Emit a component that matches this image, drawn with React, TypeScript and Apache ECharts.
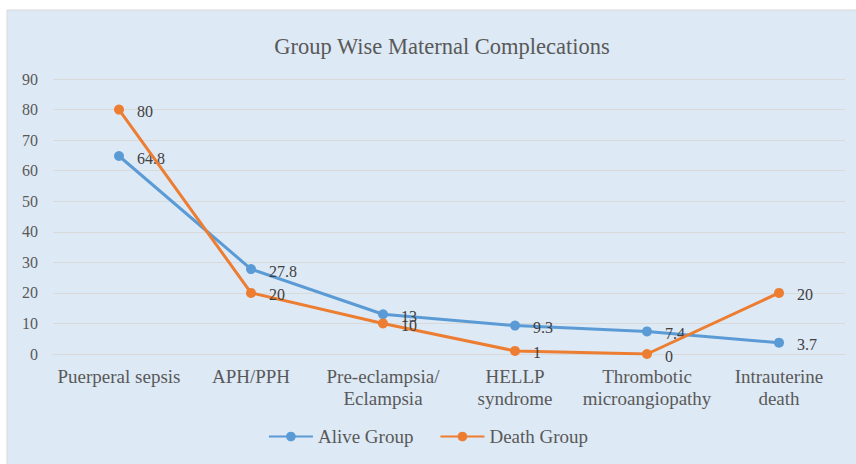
import React, { useEffect, useRef } from "react";
import * as echarts from "echarts";

const categories = [
  "Puerperal sepsis",
  "APH/PPH",
  "Pre-eclampsia/\nEclampsia",
  "HELLP\nsyndrome",
  "Thrombotic\nmicroangiopathy",
  "Intrauterine\ndeath",
];
const aliveGroup = [64.8, 27.8, 13, 9.3, 7.4, 3.7];
const deathGroup = [80, 20, 10, 1, 0, 20];
const seriesNames = ["Alive Group", "Death Group"];
const titleText = "Group Wise Maternal Complecations";

const FONT = "Liberation Serif, Times New Roman, serif";
const TXT = "#595959";

export default function App() {
  const ref = useRef<HTMLDivElement>(null);
  useEffect(() => {
    document.body.style.margin = "0";
    const chart = echarts.init(ref.current!, null, { renderer: "svg" });
    const mkSeries = (name: string, data: number[], color: string) => ({
      name,
      type: "line",
      data,
      symbol: "circle",
      symbolSize: 10,
      color,
      lineStyle: { width: 3, color },
      itemStyle: { color },
      label: {
        show: true,
        position: "right",
        distance: 13,
        offset: [0, 2],
        fontFamily: FONT,
        fontSize: 16,
        color: "#404040",
      },
      z: name === seriesNames[1] ? 3 : 2,
    });
    chart.setOption({
      animation: false,
      backgroundColor: "#ffffff",
      textStyle: { fontFamily: FONT },
      graphic: [
        {
          type: "rect",
          shape: { x: 7, y: 10, width: 860, height: 470 },
          style: { fill: "#dde9f5", stroke: "#d9d9d9", lineWidth: 1 },
          z: -10,
          silent: true,
        },
      ],
      title: {
        text: titleText,
        left: 437,
        textAlign: "center",
        top: 30,
        textStyle: { fontFamily: FONT, fontSize: 22.5, fontWeight: "normal", color: TXT },
      },
      legend: {
        bottom: 13,
        left: "center",
        itemWidth: 44,
        itemHeight: 12,
        itemGap: 26,
        textStyle: { fontFamily: FONT, fontSize: 19, color: TXT },
        data: seriesNames,
      },
      grid: { left: 53, right: 11, top: 79, bottom: 110, containLabel: false },
      xAxis: {
        type: "category",
        data: categories,
        boundaryGap: true,
        axisTick: { show: false },
        axisLine: { show: true, lineStyle: { color: "#d9d9d9" } },
        axisLabel: {
          fontFamily: FONT,
          fontSize: 19,
          color: TXT,
          margin: 11,
          lineHeight: 22,
          interval: 0,
        },
      },
      yAxis: {
        type: "value",
        min: 0,
        max: 90,
        interval: 10,
        axisLine: { show: false },
        axisTick: { show: false },
        splitLine: { lineStyle: { color: "#d9d9d9" } },
        axisLabel: { fontFamily: FONT, fontSize: 16, color: TXT, margin: 15 },
      },
      series: [
        mkSeries(seriesNames[0], aliveGroup, "#5b9bd5"),
        mkSeries(seriesNames[1], deathGroup, "#ed7d31"),
      ],
    });
    return () => chart.dispose();
  }, []);
  return <div ref={ref} style={{ width: 856, height: 464 }} />;
}
